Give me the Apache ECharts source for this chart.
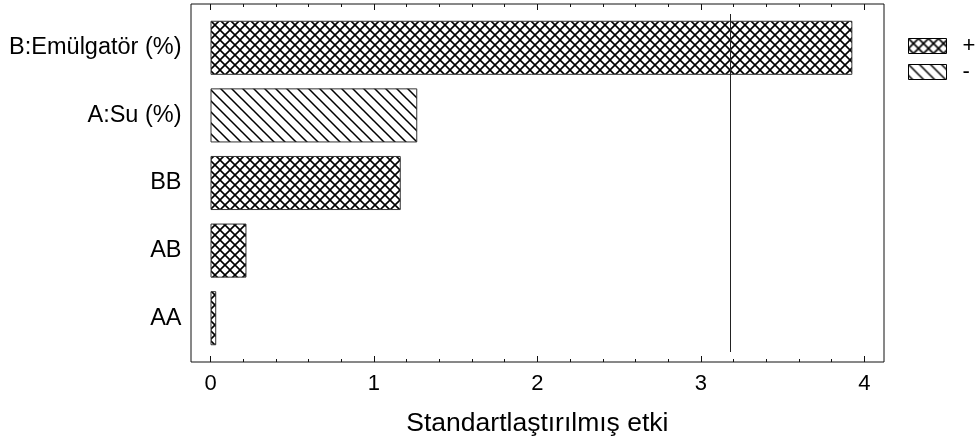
<!DOCTYPE html>
<html>
<head>
<meta charset="utf-8">
<script src="https://cdn.jsdelivr.net/npm/echarts@6/dist/echarts.min.js"></script>
<style>html,body{margin:0;padding:0;background:#fff}#c{width:977px;height:442px}</style>
</head>
<body>
<div id="c"></div>
<script>
// ---- data ----
var categories = ['AA', 'AB', 'BB', 'A:Su (%)', 'B:Emülgatör (%)'];
var effects = [0.035, 0.22, 1.164, 1.265, 3.927];
var signs = ['+', '+', '+', '-', '+'];
var criticalValue = 3.182;
var xTicks = [0, 1, 2, 3, 4];
var axisTitle = 'Standartlaştırılmış etki';

// ---- patterns ----
function crossPattern() {
  var s = 10, c = document.createElement('canvas');
  c.width = s; c.height = s;
  var g = c.getContext('2d');
  g.fillStyle = '#fff'; g.fillRect(0, 0, s, s);
  g.strokeStyle = '#000'; g.lineWidth = 1.6;
  g.beginPath();
  g.moveTo(-1, -1); g.lineTo(s + 1, s + 1);
  g.moveTo(s + 1, -1); g.lineTo(-1, s + 1);
  g.stroke();
  return c;
}
function hatchPattern() {
  var s = 11, c = document.createElement('canvas');
  c.width = s; c.height = s;
  var g = c.getContext('2d');
  g.fillStyle = '#fff'; g.fillRect(0, 0, s, s);
  g.strokeStyle = '#000'; g.lineWidth = 1.5;
  g.beginPath();
  g.moveTo(-1, -1); g.lineTo(s + 1, s + 1);
  g.moveTo(-1, s - 1); g.lineTo(1, s + 1);
  g.moveTo(s - 1, -1); g.lineTo(s + 1, 1);
  g.stroke();
  return c;
}

var plusData = effects.map(function (v, i) { return signs[i] === '+' ? v : null; });
var minusData = effects.map(function (v, i) { return signs[i] === '-' ? v : null; });

var font = "'Liberation Sans', Arial, Helvetica, sans-serif";
var xMin = 0, xMax = 4;
var frameMin = -0.116, frameMax = 4.119;

var chart = echarts.init(document.getElementById('c'), null, {renderer: 'canvas'});
chart.setOption({
  animation: false,
  backgroundColor: '#fff',
  grid: [
    {left: 191, right: 93, top: 4, bottom: 80, show: true, borderColor: '#111', borderWidth: 1, backgroundColor: 'transparent'},
    {left: 210.5, right: 112.7, top: 4, bottom: 80},
    {left: 210.5, right: 112.7, top: 14, bottom: 90}
  ],
  legend: {
    orient: 'vertical', left: 908, top: 35, padding: 0,
    itemWidth: 38, itemHeight: 15, itemGap: 4,
    icon: 'rect',
    data: ['+', '-'],
    itemStyle: {borderColor: '#000', borderWidth: 1},
    textStyle: {fontFamily: font, fontSize: 22, lineHeight: 15, color: '#000', padding: [0, 0, 0, 11]}
  },
  xAxis: [
    {gridIndex: 0, type: 'value', min: frameMin, max: frameMax, show: false},
    {gridIndex: 1, type: 'value', position: 'bottom', min: xMin, max: xMax, interval: 1,
      axisLine: {show: false}, splitLine: {show: false},
      axisTick: {show: true, inside: true, length: 6, lineStyle: {color: '#111', width: 1}},
      minorTick: {show: true, splitNumber: 5, length: 3, lineStyle: {color: '#111', width: 1}},
      axisLabel: {show: true, margin: 11, fontFamily: font, fontSize: 22, color: '#000',
        customValues: xTicks},
      name: axisTitle, nameLocation: 'middle', nameGap: 48,
      nameTextStyle: {fontFamily: font, fontSize: 26.5, color: '#000'}
    },
    {gridIndex: 1, type: 'value', position: 'top', min: xMin, max: xMax, interval: 1,
      axisLine: {show: false}, splitLine: {show: false},
      axisTick: {show: true, inside: true, length: 6, lineStyle: {color: '#111', width: 1}},
      minorTick: {show: true, splitNumber: 5, length: 3, lineStyle: {color: '#111', width: 1}},
      axisLabel: {show: false}
    },
    {gridIndex: 2, type: 'value', min: xMin, max: xMax, show: false, splitLine: {show: false}}
  ],
  yAxis: [
    {gridIndex: 0, type: 'value', show: false},
    {gridIndex: 1, type: 'value', show: false},
    {gridIndex: 2, type: 'category', data: categories,
      axisLine: {show: false}, axisTick: {show: false},
      axisLabel: {margin: 29, fontFamily: font, fontSize: 23.5, color: '#000'}
    }
  ],
  series: [
    {name: '+', type: 'bar', xAxisIndex: 3, yAxisIndex: 2, data: plusData,
      barGap: '-100%', barCategoryGap: '20%',
      itemStyle: {color: {image: crossPattern(), repeat: 'repeat'}, borderColor: '#333', borderWidth: 1},
      markLine: {
        silent: true, symbol: 'none', label: {show: false},
        lineStyle: {color: '#222', width: 1, type: 'solid'},
        data: [{xAxis: criticalValue}]
      }
    },
    {name: '-', type: 'bar', xAxisIndex: 3, yAxisIndex: 2, data: minusData,
      barGap: '-100%', barCategoryGap: '20%',
      itemStyle: {color: {image: hatchPattern(), repeat: 'repeat'}, borderColor: '#333', borderWidth: 1}
    }
  ]
});
</script>
</body>
</html>
